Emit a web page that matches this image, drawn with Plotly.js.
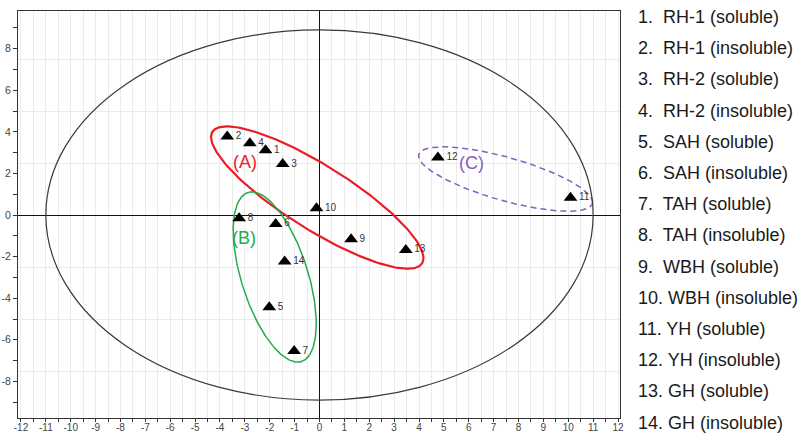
<!DOCTYPE html>
<html>
<head>
<meta charset="utf-8">
<script src="https://cdn.plot.ly/plotly-3.0.1.min.js"></script>
<style>html,body{margin:0;padding:0;background:#fff;}#chart{width:801px;height:434px;}</style>
</head>
<body>
<div id="chart"></div>
<script>
// ---- data ----
const sampleIds = ['1','2','3','4','5','6','7','8','9','10','11','12','13','14'];
const pc1 = [-2.17, -3.71, -1.48, -2.80, -2.02, -1.76, -1.02, -3.23, 1.27, -0.12, 10.09, 4.76, 3.47, -1.40];
const pc2 = [3.12, 3.77, 2.45, 3.45, -4.44, -0.43, -6.54, -0.16, -1.17, 0.32, 0.83, 2.76, -1.68, -2.24];
const sampleNames = ['RH-1 (soluble)','RH-1 (insoluble)','RH-2 (soluble)','RH-2 (insoluble)','SAH (soluble)','SAH (insoluble)','TAH (soluble)','TAH (insoluble)','WBH (soluble)','WBH (insoluble)','YH (soluble)','YH (insoluble)','GH (soluble)','GH (insoluble)'];
const xTickVals = [-12,-11,-10,-9,-8,-7,-6,-5,-4,-3,-2,-1,0,1,2,3,4,5,6,7,8,9,10,11,12];
const xTickText = ['-12','-11','-10','-9','-8','-7','-6','-5','-4','-3','-2','-1','0','1','2','3','4','5','6','7','8','9','10','11','12'];
const yTickVals = [-8,-6,-4,-2,0,2,4,6,8];
const yTickText = ['-8','-6','-4','-2','0','2','4','6','8'];
// confidence ellipse (Hotelling T2) semi-axes
const t2Radii = [11, 8.9];
// group ellipses: centre, two conjugate semi-diameters (data units)
const groupLabels = ['(A)','(B)','(C)'];
const groupCenters = [[-0.09, 0.84], [-1.80, -2.98], [7.48, 1.73]];
const groupU = [[4.27, -2.91], [1.67, -2.25], [3.50, -1.11]];
const groupV = [[0, -1.80], [0, -3.42], [0, -1.08]];
const groupLabelX = [-2.98, -3.02, 6.12];
const groupLabelY = [2.56, -1.12, 2.49];
const groupColors = ['#ec1c24', '#22ac4c', '#8a5cc2'];

// ---- build traces ----
const traces = [];
const N = 240;
for (let g = 0; g < groupCenters.length; g++) {
  const xs = [], ys = [];
  for (let k = 0; k <= N; k++) {
    const t = 2 * Math.PI * k / N;
    xs.push(groupCenters[g][0] + groupU[g][0] * Math.cos(t) + groupV[g][0] * Math.sin(t));
    ys.push(groupCenters[g][1] + groupU[g][1] * Math.cos(t) + groupV[g][1] * Math.sin(t));
  }
  traces.push({
    type: 'scatter', mode: 'lines', x: xs, y: ys, hoverinfo: 'skip', showlegend: false,
    line: {color: groupColors[g], width: g === 0 ? 2.2 : 1.5, dash: g === 2 ? '6px,4px' : 'solid'}
  });
}
traces.push({
  type: 'scatter', mode: 'markers+text', x: pc1, y: pc2, text: sampleIds,
  textposition: 'middle right', showlegend: false,
  textfont: {family: 'Liberation Sans, Arial, sans-serif', size: 10, color: '#333'},
  marker: {symbol: 'triangle-up', size: 12, color: '#000'}
});
// helper trace for the secondary grid axis
traces.push({type: 'scatter', mode: 'markers', x: [null], y: [null], yaxis: 'y2', showlegend: false, hoverinfo: 'skip'});

const annotations = [];
for (let g = 0; g < groupLabels.length; g++) {
  annotations.push({
    x: groupLabelX[g], y: groupLabelY[g], xref: 'x', yref: 'y', text: groupLabels[g], showarrow: false,
    font: {family: 'Liberation Sans, Arial, sans-serif', size: 18, color: groupColors[g]}
  });
}
const plotH = 434 - 11 - 16;
for (let i = 0; i < sampleNames.length; i++) {
  const num = sampleIds[i] + '.';
  const sep = num.length < 3 ? '\u00a0 ' : ' ';
  annotations.push({
    xref: 'paper', yref: 'paper', x: (636 - 18) / 602, y: (418 - (17 + 31.2 * i)) / plotH,
    xanchor: 'left', yanchor: 'middle', showarrow: false,
    text: num + sep + sampleNames[i],
    font: {family: 'Liberation Sans, Arial, sans-serif', size: 18, color: '#1a1a1a'}
  });
}

const yRange = [-9.76, 9.81];
const layout = {
  width: 801, height: 434,
  margin: {l: 18, r: 181, t: 11, b: 16, pad: 0},
  paper_bgcolor: '#fff', plot_bgcolor: '#fff',
  showlegend: false,
  font: {family: 'Liberation Sans, Arial, sans-serif', color: '#333'},
  xaxis: {
    range: [-12.12, 12.08], tickvals: xTickVals, ticktext: xTickText,
    ticks: 'outside', ticklen: 3, tickcolor: '#333', tickwidth: 1, ticklabelstandoff: -3,
    tickfont: {size: 10, color: '#444'},
    showgrid: true, gridcolor: '#ebebeb', gridwidth: 1,
    minor: {dtick: 0.5, tick0: 0, ticks: 'outside', ticklen: 3, tickcolor: '#333', showgrid: true, gridcolor: '#ebebeb', gridwidth: 1},
    zeroline: true, zerolinecolor: '#111', zerolinewidth: 1,
    showline: true, mirror: true, linecolor: '#333', linewidth: 1, fixedrange: true
  },
  yaxis: {
    range: yRange, tickvals: yTickVals, ticktext: yTickText,
    ticks: 'outside', ticklen: 4, tickcolor: '#333', tickwidth: 1,
    tickfont: {size: 10.5, color: '#444'},
    showgrid: false,
    minor: {dtick: 1, tick0: 0, ticks: 'outside', ticklen: 4, tickcolor: '#333', showgrid: false},
    zeroline: true, zerolinecolor: '#111', zerolinewidth: 1,
    showline: true, mirror: true, linecolor: '#333', linewidth: 1, fixedrange: true
  },
  yaxis2: {
    overlaying: 'y', range: yRange, dtick: 2.5, tick0: 0, showgrid: true, gridcolor: '#ebebeb',
    showticklabels: false, ticks: '', zeroline: false, showline: false, fixedrange: true
  },
  shapes: [{
    type: 'circle', xref: 'x', yref: 'y', x0: -t2Radii[0], x1: t2Radii[0], y0: -t2Radii[1], y1: t2Radii[1],
    line: {color: '#3a3a3a', width: 1.2}, layer: 'above'
  }],
  annotations: annotations
};
Plotly.newPlot('chart', traces, layout, {staticPlot: true, displayModeBar: false});
</script>
</body>
</html>
